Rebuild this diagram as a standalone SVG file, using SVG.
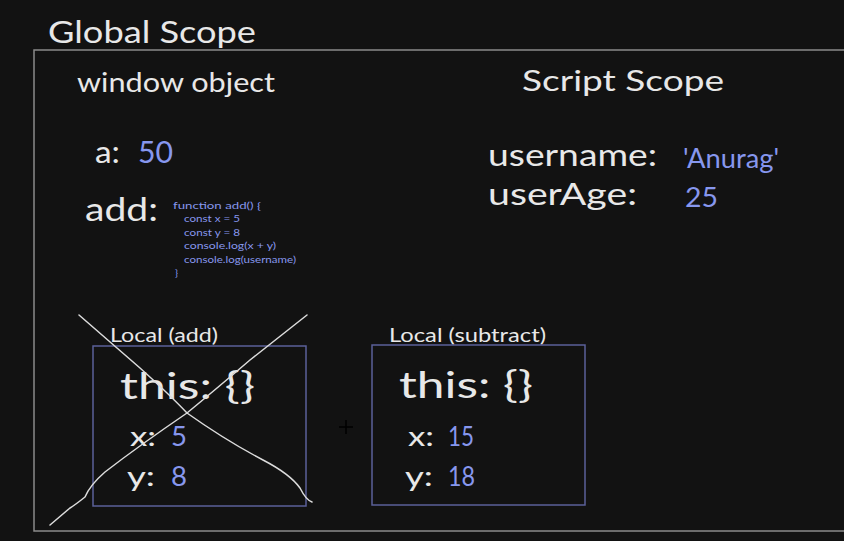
<svg xmlns="http://www.w3.org/2000/svg" width="844" height="541" viewBox="0 0 844 541">
<style>
text{font-family:"Lato","Open Sans",sans-serif;fill:#e8e8e8}
.b{fill:#8797ee}
.box{fill:none;stroke:#5b6099;stroke-width:1.5}
.code{font-size:10px;fill:#8797ee}
.x{fill:none;stroke:#dcdcdc;stroke-width:1.5;stroke-linecap:round;stroke-linejoin:round}
</style>
<rect width="844" height="541" fill="#121212"/>
<g id="global">
<rect x="34" y="50" width="820" height="481" fill="none" stroke="#8a8a8a" stroke-width="1.5"/>
<text x="48" y="43" font-size="30" textLength="208" lengthAdjust="spacingAndGlyphs">Global Scope</text>
</g>
<g id="window">
<text x="77" y="92" font-size="27" textLength="198" lengthAdjust="spacingAndGlyphs">window object</text>
<text x="95" y="163" font-size="30" textLength="25" lengthAdjust="spacingAndGlyphs">a:</text>
<text class="b" x="138" y="163" font-size="30" textLength="35" lengthAdjust="spacingAndGlyphs">50</text>
<text x="85" y="221" font-size="33" textLength="73" lengthAdjust="spacingAndGlyphs">add:</text>
<text class="code" x="173" y="209" textLength="88" lengthAdjust="spacingAndGlyphs">function add() {</text>
<text class="code" x="184" y="222" textLength="56" lengthAdjust="spacingAndGlyphs">const x = 5</text>
<text class="code" x="184" y="236" textLength="56" lengthAdjust="spacingAndGlyphs">const y = 8</text>
<text class="code" x="184" y="249" textLength="92" lengthAdjust="spacingAndGlyphs">console.log(x + y)</text>
<text class="code" x="184" y="263" textLength="112" lengthAdjust="spacingAndGlyphs">console.log(username)</text>
<text class="code" x="175" y="276">}</text>
</g>
<g id="script">
<text x="522" y="91" font-size="29" textLength="202" lengthAdjust="spacingAndGlyphs">Script Scope</text>
<text x="488" y="166" font-size="31" textLength="169" lengthAdjust="spacingAndGlyphs">username:</text>
<text class="b" x="683" y="168" font-size="27" textLength="96" lengthAdjust="spacingAndGlyphs">'Anurag'</text>
<text x="488" y="205" font-size="31" textLength="149" lengthAdjust="spacingAndGlyphs">userAge:</text>
<text class="b" x="685" y="207" font-size="27" textLength="33" lengthAdjust="spacingAndGlyphs">25</text>
</g>
<g id="local-add">
<text x="110" y="342" font-size="19" textLength="108" lengthAdjust="spacingAndGlyphs">Local (add)</text>
<rect class="box" x="93" y="346" width="213" height="160"/>
<text x="120" y="399" font-size="36" textLength="135" lengthAdjust="spacingAndGlyphs">this: {}</text>
<text x="130" y="446" font-size="27" textLength="26" lengthAdjust="spacingAndGlyphs">x:</text>
<text class="b" x="171" y="446" font-size="27" textLength="16" lengthAdjust="spacingAndGlyphs">5</text>
<text x="127" y="486" font-size="27" textLength="28" lengthAdjust="spacingAndGlyphs">y:</text>
<text class="b" x="171" y="486" font-size="27" textLength="16" lengthAdjust="spacingAndGlyphs">8</text>
</g>
<g id="local-subtract">
<text x="389" y="342" font-size="19" textLength="157" lengthAdjust="spacingAndGlyphs">Local (subtract)</text>
<rect class="box" x="372" y="345" width="213" height="160"/>
<text x="399" y="398" font-size="36" textLength="134" lengthAdjust="spacingAndGlyphs">this: {}</text>
<text x="408" y="446" font-size="27" textLength="26" lengthAdjust="spacingAndGlyphs">x:</text>
<text class="b" x="448" y="446" font-size="27" textLength="26" lengthAdjust="spacingAndGlyphs">15</text>
<text x="405" y="486" font-size="27" textLength="28" lengthAdjust="spacingAndGlyphs">y:</text>
<text class="b" x="448" y="486" font-size="27" textLength="27" lengthAdjust="spacingAndGlyphs">18</text>
</g>
<g id="connectors">
<path class="x" d="M79 315 L140 368 Q170 395 187 413 Q225 440 263 460 Q290 474 300 488 Q306 500 312 502"/>
<path class="x" d="M307 315 L250 360 Q215 390 187 413 Q140 445 105 472 Q90 485 85 497 Q75 505 70 508 L50 525"/>
<path d="M339 427 H353 M346 420 V434" stroke="#000" stroke-width="1.5"/>
</g>
</svg>
